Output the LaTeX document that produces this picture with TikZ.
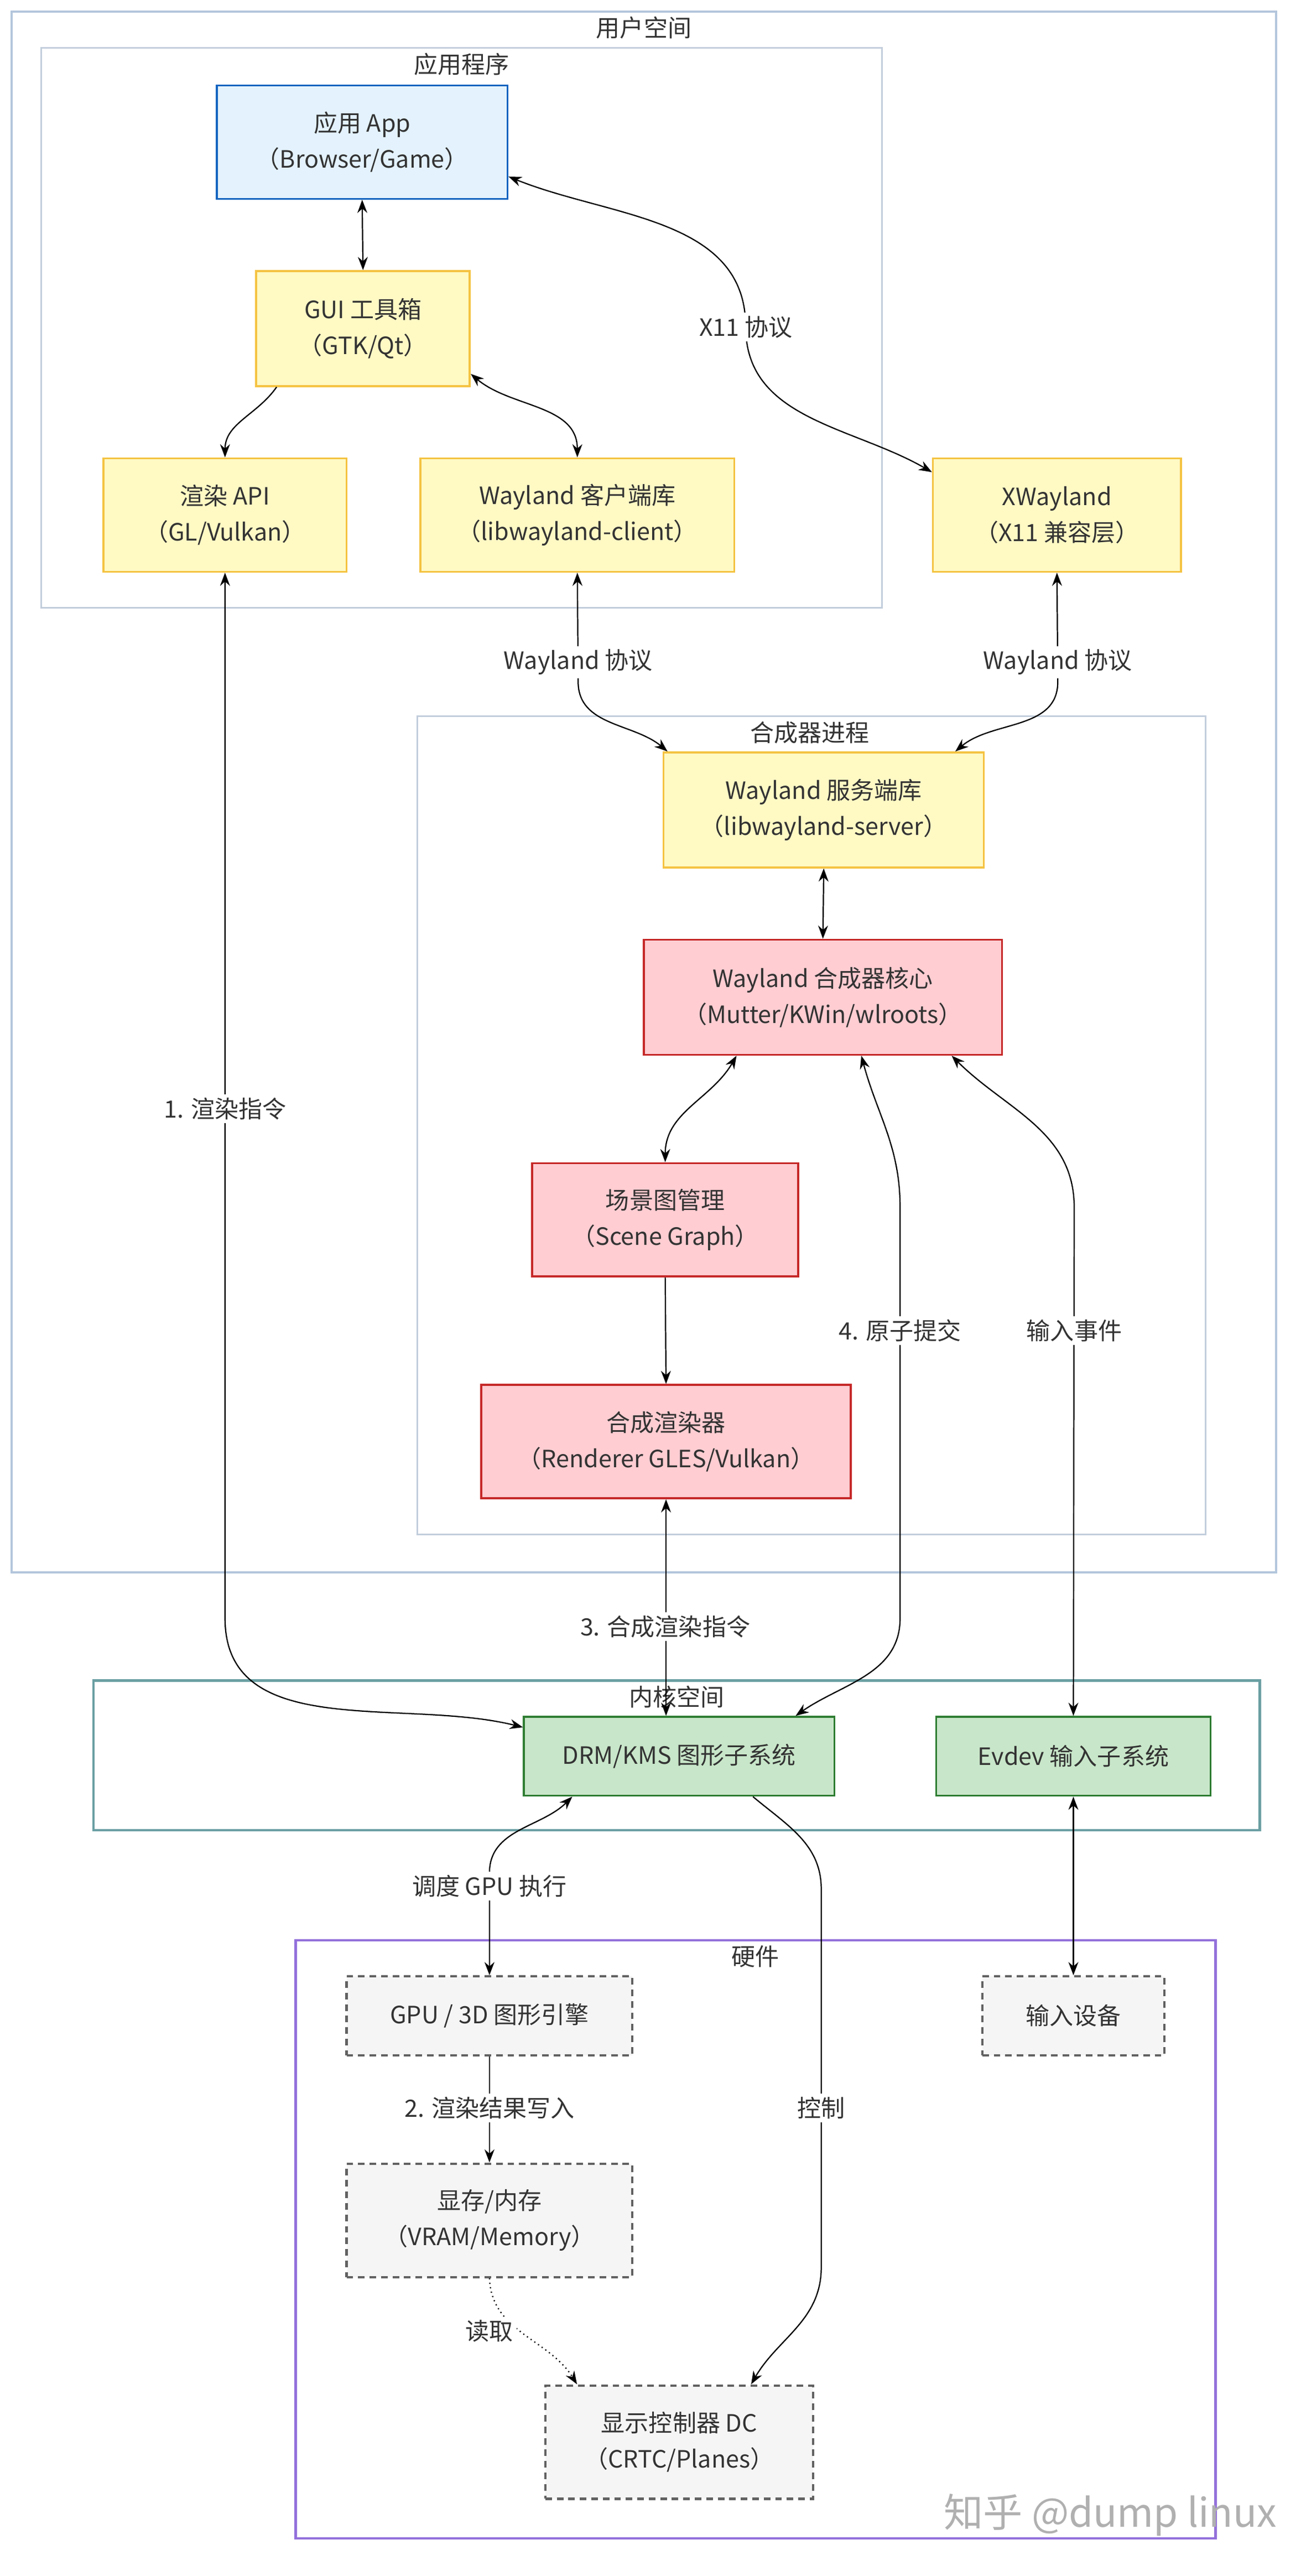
\documentclass[tikz,border=0pt]{standalone}
\usepackage{fontspec}
\setmainfont{Noto Sans CJK SC}
\usetikzlibrary{arrows.meta,calc}
\definecolor{appfill}{HTML}{E3F2FD}
\definecolor{appdraw}{HTML}{1565C0}
\definecolor{yfill}{HTML}{FFF9C4}
\definecolor{ydraw}{HTML}{F5C342}
\definecolor{rfill}{HTML}{FFCDD2}
\definecolor{rdraw}{HTML}{C62828}
\definecolor{gfill}{HTML}{C8E6C9}
\definecolor{gdraw}{HTML}{2E7D32}
\definecolor{hfill}{HTML}{F5F5F5}
\definecolor{hdraw}{HTML}{616161}
\definecolor{userframe}{HTML}{B3C6DC}
\definecolor{subframe}{HTML}{C3CEDC}
\definecolor{kernframe}{HTML}{6A9FA3}
\definecolor{hwframe}{HTML}{9370DB}
\definecolor{txt}{HTML}{333333}
\definecolor{wmgray}{HTML}{B0B0B0}
\tikzset{
  basebox/.style={draw, line width=1.2pt, align=center, inner sep=0pt, text=txt},
  appbox/.style={basebox, fill=appfill, draw=appdraw},
  ybox/.style={basebox, fill=yfill, draw=ydraw},
  rbox/.style={basebox, fill=rfill, draw=rdraw},
  gbox/.style={basebox, fill=gfill, draw=gdraw},
  hbox/.style={basebox, fill=hfill, draw=hdraw, line width=1.4pt, dash pattern=on 4pt off 3pt},
  conn/.style={draw=black, line width=0.75pt},
  lbl/.style={fill=white, inner sep=2pt, text=txt},
  frametitle/.style={inner sep=0pt, text=txt},
}
\begin{document}
\begin{tikzpicture}[x=1pt,y=1pt, font=\fontsize{14.5}{22}\selectfont,
  >={Stealth[length=8pt,width=6pt]}]
\useasboundingbox (0,0) rectangle (792,-1568);
\fill[white] (0,0) rectangle (792,-1568);

% frames
\draw[userframe, line width=1.4pt] (7,-7) rectangle (777,-957);
\draw[subframe, line width=1pt] (25,-29) rectangle (537,-370);
\draw[subframe, line width=1pt] (254,-436) rectangle (734,-934);
\draw[kernframe, line width=1.5pt] (57,-1023) rectangle (767,-1114);
\draw[hwframe, line width=1.5pt] (180,-1181) rectangle (740,-1545);

\node[frametitle] (tuser) at (392,-17) {用户空间};
\node[frametitle] (tapp) at (281,-39) {应用程序};
\node[frametitle] (tcomp) at (493,-446) {合成器进程};
\node[frametitle] (tkern) at (412,-1033) {内核空间};
\node[frametitle] (thw) at (460,-1191) {硬件};

% nodes
\node[appbox, minimum width=177pt, minimum height=69pt] (app) at (220.5,-86.5) {应用 App\\（Browser/Game）};
\node[ybox, minimum width=130pt, minimum height=70pt] (gui) at (221,-200) {GUI 工具箱\\（GTK/Qt）};
\node[ybox, minimum width=148pt, minimum height=69pt] (api) at (137,-313.5) {渲染 API\\（GL/Vulkan）};
\node[ybox, minimum width=191pt, minimum height=69pt] (wcl) at (351.5,-313.5) {Wayland 客户端库\\（libwayland-client）};
\node[ybox, minimum width=151pt, minimum height=69pt] (xw) at (643.5,-313.5) {XWayland\\（X11 兼容层）};
\node[ybox, minimum width=195pt, minimum height=70pt] (wsl) at (501.5,-493) {Wayland 服务端库\\（libwayland-server）};
\node[rbox, minimum width=218pt, minimum height=70pt] (core) at (501,-607) {Wayland 合成器核心\\（Mutter/KWin/wlroots）};
\node[rbox, minimum width=162pt, minimum height=69pt] (scene) at (405,-742.5) {场景图管理\\（Scene Graph）};
\node[rbox, minimum width=225pt, minimum height=69pt] (renderer) at (405.5,-877.5) {合成渲染器\\（Renderer GLES/Vulkan）};
\node[gbox, minimum width=189pt, minimum height=48pt] (drm) at (413.5,-1069) {DRM/KMS 图形子系统};
\node[gbox, minimum width=167pt, minimum height=48pt] (evdev) at (653.5,-1069) {Evdev 输入子系统};
\node[hbox, minimum width=174pt, minimum height=48pt] (gpu) at (298,-1227) {GPU / 3D 图形引擎};
\node[hbox, minimum width=111pt, minimum height=48pt] (input) at (653.5,-1227) {输入设备};
\node[hbox, minimum width=174pt, minimum height=69pt] (vram) at (298,-1351.5) {显存/内存\\（VRAM/Memory）};
\node[hbox, minimum width=163pt, minimum height=69pt] (dc) at (413.5,-1486.5) {显示控制器 DC\\（CRTC/Planes）};

% label coordinates
\coordinate (cx11) at (454,-199);
\coordinate (cwl1) at (352,-403);
\coordinate (cwl2) at (644,-403);
\coordinate (crend) at (137,-675);
\coordinate (catom) at (548,-810);
\coordinate (cinput) at (654,-810);
\coordinate (ccomp) at (405,-990);
\coordinate (csched) at (298,-1148);
\coordinate (cwrite) at (298,-1283);
\coordinate (cctrl) at (500,-1283);
\coordinate (cread) at (298,-1419);

% connectors
\draw[conn,<->] (app.south) -- (gui.north);
\draw[conn,<->] ([yshift=-21pt]app.east) to[out=-22,in=90] (cx11) to[out=-90,in=150] ([yshift=-9pt]xw.north west);
\draw[conn,->] ([xshift=13pt]gui.south west) to[out=-125,in=90] (api.north);
\draw[conn,<->] ([yshift=8pt]gui.south east) to[out=-40,in=90] (wcl.north);
\draw[conn,<->] (api.south) -- (137,-985) to[out=-90,in=166] ([yshift=-7pt]drm.north west);
\draw[conn,<->] (wcl.south) -- (352,-415) to[out=-90,in=140] ([xshift=3pt]wsl.north west);
\draw[conn,<->] (xw.south) -- (644,-415) to[out=-90,in=40] ([xshift=-18pt]wsl.north east);
\draw[conn,<->] (wsl.south) -- (core.north);
\draw[conn,<->] ([xshift=57pt]core.south west) to[out=-120,in=90] (scene.north);
\draw[conn,->] (scene.south) -- (renderer.north);
\draw[conn,<->] ([xshift=133pt]core.south west) to[out=-75,in=90] (548,-735) -- (548,-985) to[out=-90,in=35] ([xshift=166pt]drm.north west);
\draw[conn,<->] ([xshift=188pt]core.south west) to[out=-45,in=90] (654,-735) -- (evdev.north);
\draw[conn,<->] (renderer.south) -- (renderer.south |- drm.north);
\draw[conn,<->] ([xshift=30pt]drm.south west) to[out=-135,in=90] (298,-1140) -- (gpu.north);
\draw[conn,->] ([xshift=140pt]drm.south west) to[out=-40,in=90] (500,-1150) -- (500,-1380) to[out=-90,in=60] ([xshift=126pt]dc.north west);
\draw[conn,<->] (evdev.south) -- (input.north);
\draw[conn,->] (gpu.south) -- (vram.north);
\draw[conn,->,dotted] (vram.south) to[out=-88,in=122] ([xshift=20pt]dc.north west);

% connector labels
\node[lbl] (lx11) at (cx11) {X11 协议};
\node[lbl] (lwl1) at (cwl1) {Wayland 协议};
\node[lbl] (lwl2) at (cwl2) {Wayland 协议};
\node[lbl] (lrend) at (crend) {1. 渲染指令};
\node[lbl] (latom) at (catom) {4. 原子提交};
\node[lbl] (linput) at (cinput) {输入事件};
\node[lbl] (lcomp) at (ccomp) {3. 合成渲染指令};
\node[lbl] (lsched) at (csched) {调度 GPU 执行};
\node[lbl] (lwrite) at (cwrite) {2. 渲染结果写入};
\node[lbl] (lctrl) at (cctrl) {控制};
\node[lbl] (lread) at (cread) {读取};

% watermark
\node[text=wmgray, font=\fontsize{24}{28}\selectfont, inner sep=0pt] (wm) at (676,-1531) {知乎 @dump linux};
\end{tikzpicture}
\end{document}
